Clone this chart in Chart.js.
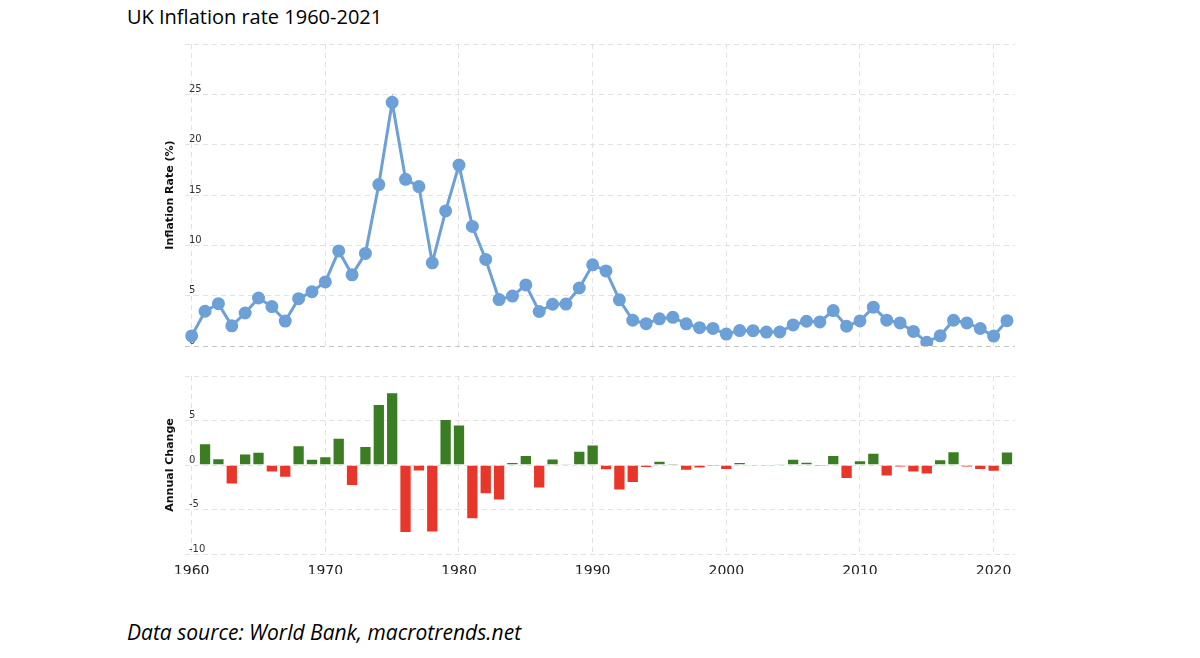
<!DOCTYPE html>
<html lang="en">
<head>
<meta charset="UTF-8">
<title>UK Inflation rate 1960-2021</title>
<script src="https://cdn.jsdelivr.net/npm/chart.js"></script>
<style>
    body { margin: 0; background: #fff; width: 1200px; height: 658px; position: relative; overflow: hidden; }
    #titulo { position: absolute; left: 127px; top: 3px; font: 20px "Open Sans", sans-serif; color: #000; }
    #fonte { position: absolute; left: 127px; top: 618px; font: italic 21px "Open Sans", sans-serif; color: #000; }
    .caixa { position: absolute; left: 0; width: 1200px; }
</style>
</head>
<body>
    <div id="titulo">UK Inflation rate 1960-2021</div>
    <div class="caixa" style="top:0; height:360px;"><canvas id="taxa"></canvas></div>
    <div class="caixa" style="top:360px; height:240px;"><canvas id="variacao"></canvas></div>
    <div id="fonte">Data source: World Bank, macrotrends.net</div>

<script>
    const anos = [1960, 1961, 1962, 1963, 1964, 1965, 1966, 1967, 1968, 1969,
        1970, 1971, 1972, 1973, 1974, 1975, 1976, 1977, 1978, 1979,
        1980, 1981, 1982, 1983, 1984, 1985, 1986, 1987, 1988, 1989,
        1990, 1991, 1992, 1993, 1994, 1995, 1996, 1997, 1998, 1999,
        2000, 2001, 2002, 2003, 2004, 2005, 2006, 2007, 2008, 2009,
        2010, 2011, 2012, 2013, 2014, 2015, 2016, 2017, 2018, 2019,
        2020, 2021];

    const inflacao = [1.0, 3.45, 4.2, 2.0, 3.28, 4.77, 3.92, 2.48, 4.7, 5.4,
        6.37, 9.44, 7.07, 9.2, 16.04, 24.21, 16.56, 15.84, 8.26, 13.42,
        17.97, 11.88, 8.6, 4.61, 4.96, 6.07, 3.43, 4.15, 4.16, 5.76,
        8.06, 7.46, 4.59, 2.56, 2.22, 2.7, 2.85, 2.2, 1.82, 1.75,
        1.18, 1.53, 1.52, 1.38, 1.39, 2.09, 2.46, 2.39, 3.52, 1.96,
        2.49, 3.86, 2.57, 2.29, 1.45, 0.37, 1.01, 2.56, 2.29, 1.74,
        0.99, 2.52];

    const variacaoAnual = [null, 2.45, 0.75, -2.2, 1.28, 1.49, -0.85, -1.44, 2.22, 0.7,
        0.97, 3.07, -2.37, 2.13, 6.84, 8.17, -7.65, -0.72, -7.58, 5.16,
        4.55, -6.09, -3.28, -3.99, 0.35, 1.11, -2.64, 0.72, 0.1, 1.6,
        2.3, -0.6, -2.87, -2.03, -0.34, 0.48, 0.15, -0.65, -0.38, -0.15,
        -0.57, 0.35, -0.1, -0.14, 0.1, 0.7, 0.37, -0.15, 1.13, -1.56,
        0.53, 1.37, -1.29, -0.28, -0.84, -1.08, 0.64, 1.55, -0.27, -0.55,
        -0.75, 1.53];

    const ticksAnos = [1960, 1970, 1980, 1990, 2000, 2010, 2020];
    const ticksTaxa = [0, 5, 10, 15, 20, 25, 30];
    const ticksVariacao = [-10, -5, 0, 5, 10];

    Chart.defaults.font.family = "'DejaVu Sans', Verdana, sans-serif";
    Chart.defaults.color = '#333';

    const corGrade = '#e2e2e2';
    const tracejado = [5, 4];

    function eixoX(mostrarRotulos) {
        return {
            type: 'linear',
            min: 1959.5,
            max: 2021.6,
            offset: false,
            afterBuildTicks: s => { s.ticks = ticksAnos.map(v => ({ value: v })); },
            afterFit: s => { s.height = mostrarRotulos ? 20 : 0; },
            grid: { color: corGrade, drawTicks: false, offset: false },
            border: { display: false, dash: tracejado },
            ticks: {
                display: mostrarRotulos,
                padding: 9,
                color: '#222',
                font: { size: 14 },
                callback: v => String(v)
            }
        };
    }

    function eixoY(titulo, min, max, lista) {
        return {
            min: min,
            max: max,
            afterBuildTicks: s => { s.ticks = lista.map(v => ({ value: v })); },
            afterFit: s => { s.width = 25; },
            grid: {
                drawTicks: false,
                color: ctx => (ctx.tick && ctx.tick.value === 0 && min === 0) ? '#c4c4c4' : corGrade
            },
            border: { display: false, dash: tracejado },
            title: {
                display: true,
                text: titulo,
                color: '#111',
                font: { size: 11, weight: 'bold' }
            },
            ticks: {
                mirror: true,
                padding: 4,
                labelOffset: -5,
                font: { size: 10 },
                callback: v => (v === max ? '' : String(v))
            }
        };
    }

    new Chart(document.getElementById('taxa'), {
        type: 'line',
        data: {
            datasets: [{
                label: 'Inflation Rate (%)',
                data: anos.map((a, i) => ({ x: a, y: inflacao[i] })),
                borderColor: '#6ca0d6',
                backgroundColor: '#6ca0d6',
                borderWidth: 3,
                pointRadius: 5,
                pointHoverRadius: 6,
                tension: 0
            }]
        },
        options: {
            responsive: true,
            maintainAspectRatio: false,
            animation: false,
            layout: { padding: { left: 160, right: 185, top: 44, bottom: 14 } },
            plugins: { legend: { display: false }, tooltip: { enabled: false } },
            scales: {
                x: eixoX(false),
                y: eixoY('Inflation Rate (%)', 0, 30, ticksTaxa)
            }
        }
    });

    new Chart(document.getElementById('variacao'), {
        type: 'bar',
        data: {
            datasets: [{
                label: 'Annual Change',
                data: anos.map((a, i) => ({ x: a, y: variacaoAnual[i] })),
                backgroundColor: ctx => (ctx.raw && ctx.raw.y < 0) ? '#e8362a' : '#3a7d22',
                borderColor: 'rgba(255,255,255,0.7)',
                borderWidth: 1,
                barPercentage: 0.92,
                categoryPercentage: 1.0
            }]
        },
        options: {
            responsive: true,
            maintainAspectRatio: false,
            animation: false,
            layout: { padding: { left: 160, right: 185, top: 16, bottom: 26 } },
            plugins: { legend: { display: false }, tooltip: { enabled: false } },
            scales: {
                x: eixoX(true),
                y: eixoY('Annual Change', -10, 10, ticksVariacao)
            }
        }
    });
</script>
</body>
</html>
